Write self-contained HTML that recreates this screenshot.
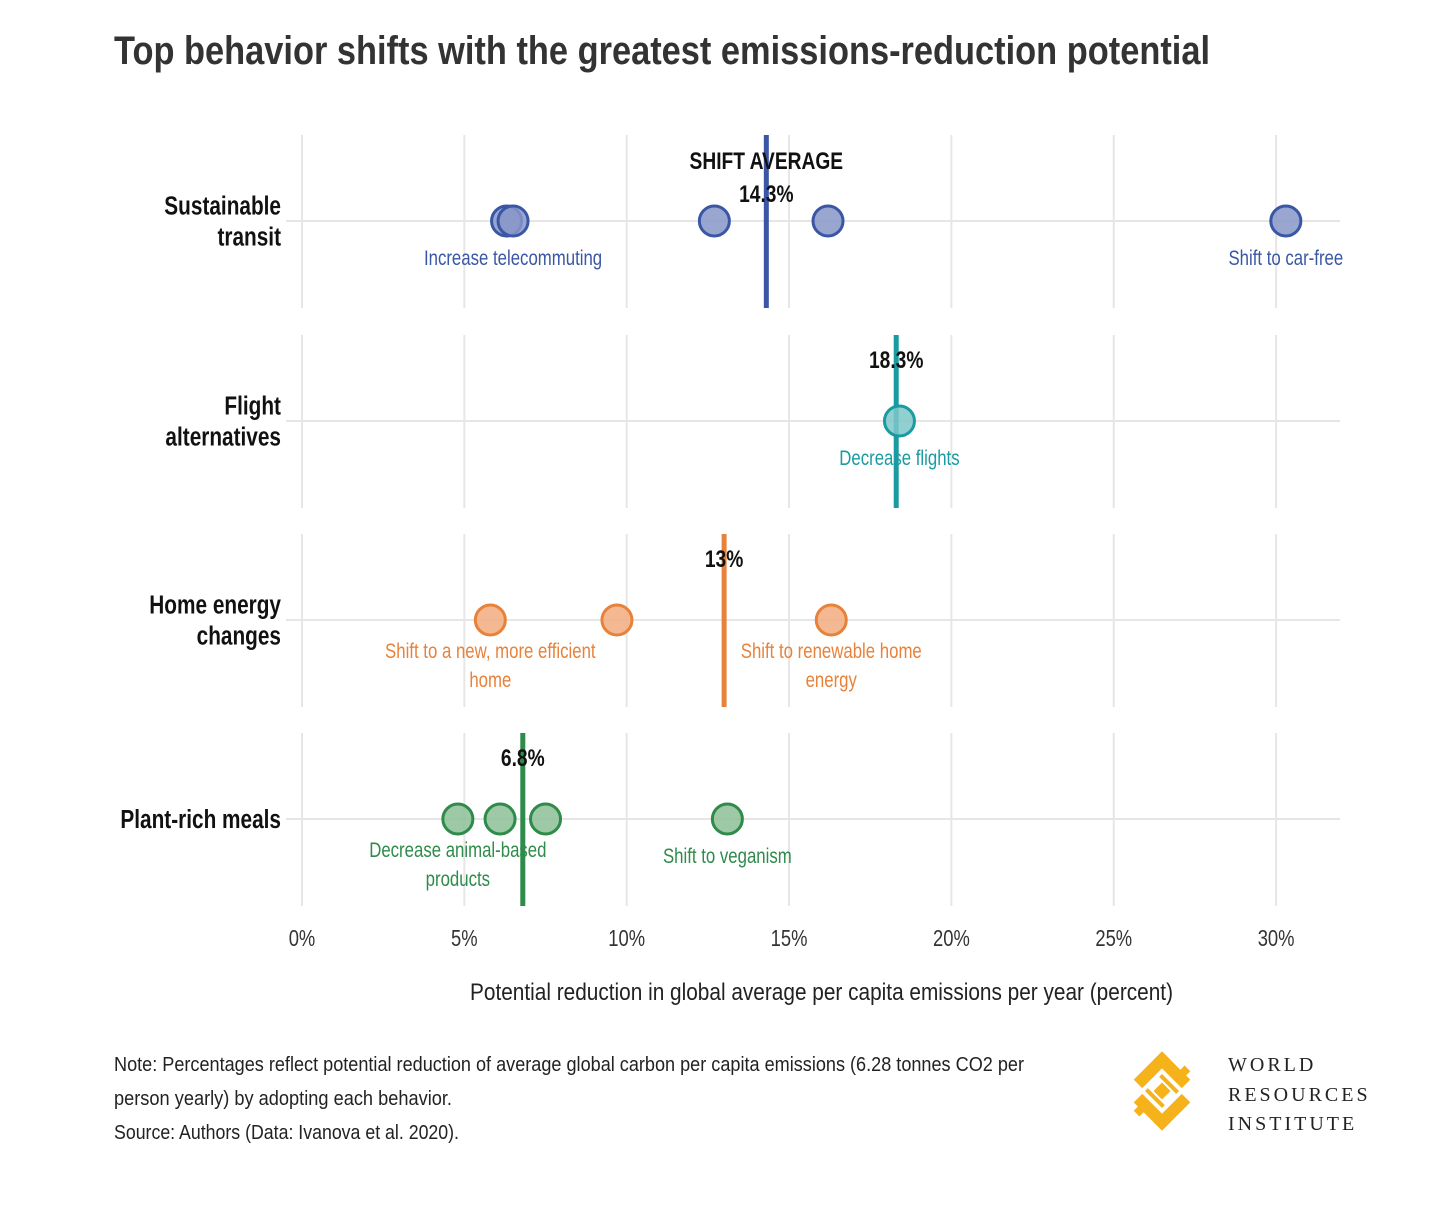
<!DOCTYPE html>
<html><head><meta charset="utf-8"><style>
body{margin:0;background:#fff;width:1450px;height:1222px;overflow:hidden;font-family:"Liberation Sans",sans-serif}
svg text{font-family:"Liberation Sans",sans-serif}
</style></head><body>
<svg id="c" width="1450" height="1222" xmlns="http://www.w3.org/2000/svg">
<text x="114" y="64" font-size="40" font-weight="bold" fill="#333" textLength="1096" lengthAdjust="spacingAndGlyphs">Top behavior shifts with the greatest emissions-reduction potential</text>
<g id="grid"></g><g id="marks"></g>
<text x="470" y="1000" font-size="24" fill="#222" textLength="703" lengthAdjust="spacingAndGlyphs">Potential reduction in global average per capita emissions per year (percent)</text>
<g font-size="20" fill="#222">
<text x="114" y="1071" textLength="910" lengthAdjust="spacingAndGlyphs">Note: Percentages reflect potential reduction of average global carbon per capita emissions (6.28 tonnes CO2 per</text>
<text x="114" y="1105" textLength="338" lengthAdjust="spacingAndGlyphs">person yearly) by adopting each behavior.</text>
<text x="114" y="1139" textLength="345" lengthAdjust="spacingAndGlyphs">Source: Authors (Data: Ivanova et al. 2020).</text>
</g>
<g>
<g transform="translate(1162,1091) rotate(45)" fill="#f5b21b">
<rect x="-28" y="-28" width="12" height="40"/><rect x="-28" y="-28" width="40" height="12"/>
<rect x="16" y="-12" width="12" height="40"/><rect x="-12" y="16" width="40" height="12"/>
<rect x="-6" y="-6" width="12" height="12"/>
<rect x="-12" y="-12" width="24" height="4"/><rect x="-12" y="8" width="24" height="4"/>
<rect x="-2" y="-34" width="8" height="8"/><rect x="-6" y="26" width="8" height="8"/>
</g>
<text x="1228" y="1071" font-size="20" letter-spacing="3" fill="#222" style="font-family:'Liberation Serif',serif">WORLD</text>
<text x="1228" y="1101" font-size="20" letter-spacing="3" fill="#222" style="font-family:'Liberation Serif',serif">RESOURCES</text>
<text x="1228" y="1130" font-size="20" letter-spacing="3" fill="#222" style="font-family:'Liberation Serif',serif">INSTITUTE</text>
</g>
</svg>
<script>
const categories=["Sustainable transit","Flight alternatives","Home energy changes","Plant-rich meals"];
const averages=[14.3,18.3,13,6.8];
const averageLabels=["14.3%","18.3%","13%","6.8%"];
const transitValues=[6.3,6.5,12.7,16.2,30.3];
const flightValues=[18.4];
const homeValues=[5.8,9.7,16.3];
const mealValues=[4.8,6.1,7.5,13.1];
const xTicks=[0,5,10,15,20,25,30];
const tickLabels=["0%","5%","10%","15%","20%","25%","30%"];
const ns="http://www.w3.org/2000/svg";
const X=v=>302+v*32.47;
const rowY=[221,421,620,819];
const colors=["#3a56a5","#1a9ba1","#e8823a","#2e8b4a"];
const fills=["#8796c8","#7ec7c8","#f2ad7f","#8cbf96"];
const series=[transitValues,flightValues,homeValues,mealValues];
const catLines=[["Sustainable","transit"],["Flight","alternatives"],["Home energy","changes"],["Plant-rich meals"]];
const labels=[
 [{v:6.5,t:["Increase telecommuting"],dy:44},{v:30.3,t:["Shift to car-free"],dy:44}],
 [{v:18.4,t:["Decrease flights"],dy:44}],
 [{v:5.8,t:["Shift to a new, more efficient","home"],dy:38},{v:16.3,t:["Shift to renewable home","energy"],dy:38}],
 [{v:4.8,t:["Decrease animal-based","products"],dy:38},{v:13.1,t:["Shift to veganism"],dy:44}]];
function mk(tag,attrs,parent){const e=document.createElementNS(ns,tag);for(const k in attrs)e.setAttribute(k,attrs[k]);parent.appendChild(e);return e;}
function cond(t){const x=+t.getAttribute('x');t.setAttribute('transform',`translate(${x},0) scale(0.8,1) translate(${-x},0)`);}
const grid=document.getElementById('grid'),marks=document.getElementById('marks');
xTicks.forEach((t,i)=>{
 rowY.forEach(y=>{const l=mk('line',{x1:X(t),x2:X(t),y1:y-86,y2:y+87,stroke:'#e6e6e6','stroke-width':2},grid);
 
 });
 const tx=mk('text',{x:X(t),y:946,'text-anchor':'middle','font-size':23,fill:'#333'},grid);tx.textContent=tickLabels[i];cond(tx);
 
 
});
categories.forEach((c,i)=>{
 const y=rowY[i];
 const h=mk('line',{x1:286,x2:1340,y1:y,y2:y,stroke:'#e6e6e6','stroke-width':2},grid);
 
 
 const lines=catLines[i];
 lines.forEach((s,j)=>{const t=mk('text',{x:281,y:y+9+(j-(lines.length-1)/2)*31,'text-anchor':'end','font-size':26,'font-weight':'bold',fill:'#111'},grid);t.textContent=s;cond(t);
 
 });
 const av=mk('line',{x1:X(averages[i]),x2:X(averages[i]),y1:y-86,y2:y+87,stroke:colors[i],'stroke-width':5},marks);
 
 
 const at=mk('text',{x:X(averages[i]),y:i===0?y-19:y-53,'text-anchor':'middle','font-size':24,'font-weight':'bold',fill:'#111'},marks);at.textContent=averageLabels[i];cond(at);
 
 
 if(i===0){const s=mk('text',{x:X(averages[i]),y:y-52,'text-anchor':'middle','font-size':24,'font-weight':'bold',fill:'#111'},marks);s.textContent="SHIFT AVERAGE";cond(s);
 
 }
 series[i].forEach(v=>{const p=mk('circle',{cx:X(v),cy:y,r:15,fill:fills[i],'fill-opacity':0.85,stroke:colors[i],'stroke-width':3},marks);
 
 });
 labels[i].forEach(L=>{L.t.forEach((s,j)=>{const t=mk('text',{x:X(L.v),y:y+L.dy+j*29,'text-anchor':'middle','font-size':21,fill:colors[i]},marks);t.textContent=s;cond(t);
 
 });});
});
</script>
</body></html>
